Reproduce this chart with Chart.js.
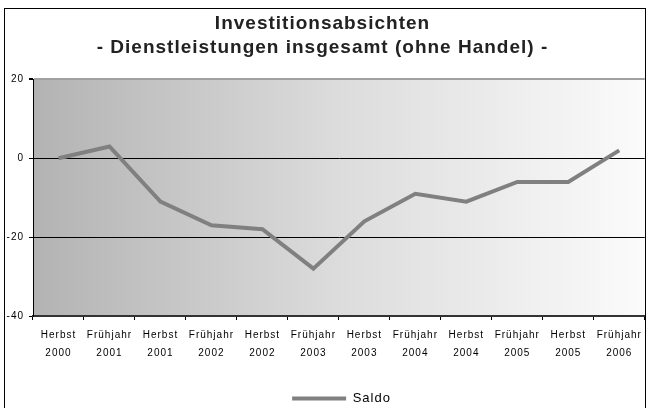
<!DOCTYPE html>
<html>
<head>
<meta charset="utf-8">
<script src="https://cdn.jsdelivr.net/npm/chart.js@4"></script>
<style>
  html, body { margin: 0; padding: 0; background: #fff; }
  #wrap { width: 648px; height: 408px; }
</style>
</head>
<body>
<div id="wrap"><canvas id="chart" width="648" height="408"></canvas></div>
<script>
// Daten
const seasons = ['Herbst', 'Frühjahr', 'Herbst', 'Frühjahr', 'Herbst', 'Frühjahr',
                 'Herbst', 'Frühjahr', 'Herbst', 'Frühjahr', 'Herbst', 'Frühjahr'];
const years = ['2000', '2001', '2001', '2002', '2002', '2003',
               '2003', '2004', '2004', '2005', '2005', '2006'];
const saldo = [0, 3, -11, -17, -18, -28, -16, -9, -11, -6, -6, 2];
const yTicks = [20, 0, -20, -40];

const labels = seasons.map((s, i) => [s, years[i]]);

// Rahmen, Verlauf im Diagrammbereich, gesperrte Schrift
const framePlugin = {
  id: 'frame',
  beforeLayout(chart) {
    chart.ctx.letterSpacing = '1px';
  },
  afterLayout(chart) {
    // Legende etwas nach rechts wie im Original
    chart.legend.left += 19;
    chart.legend.right += 19;
  },
  beforeDraw(chart) {
    const { ctx, chartArea: a } = chart;
    ctx.letterSpacing = '1px';
    ctx.save();
    ctx.fillStyle = '#fff';
    ctx.fillRect(0, 0, chart.width, chart.height);
    const g = ctx.createLinearGradient(a.left, 0, a.right, 0);
    g.addColorStop(0, '#b3b3b3');
    g.addColorStop(0.5, '#dcdcdc');
    g.addColorStop(1, '#fbfbfb');
    ctx.fillStyle = g;
    ctx.fillRect(a.left, a.top, a.right - a.left, a.bottom - a.top);
    ctx.restore();
  },
  afterDraw(chart) {
    const ctx = chart.ctx;
    ctx.save();
    ctx.strokeStyle = '#000';
    ctx.lineWidth = 1;
    ctx.strokeRect(4.5, 8.5, 641, 410);
    ctx.restore();
  }
};

new Chart(document.getElementById('chart'), {
  type: 'line',
  data: {
    labels: labels,
    datasets: [{
      label: 'Saldo',
      data: saldo,
      borderColor: '#808080',
      backgroundColor: '#808080',
      borderWidth: 4,
      pointRadius: 0,
      tension: 0
    }]
  },
  options: {
    responsive: false,
    animation: false,
    layout: { padding: { left: 0, right: 3, top: 8, bottom: -7 } },
    plugins: {
      title: {
        display: true,
        text: ['Investitionsabsichten', '- Dienstleistungen insgesamt (ohne Handel) -'],
        color: '#222',
        font: { family: 'Liberation Sans, Arial, sans-serif', size: 19, weight: 'bold', lineHeight: 1.3 },
        padding: { top: 3, bottom: 19 }
      },
      legend: {
        position: 'bottom',
        labels: {
          boxWidth: 54,
          boxHeight: 4,
          padding: 4,
          color: '#000',
          font: { family: 'Liberation Sans, Arial, sans-serif', size: 13 },
          generateLabels: (chart) => [{
            text: 'Saldo',
            fillStyle: '#808080',
            strokeStyle: '#808080',
            lineWidth: 0,
            datasetIndex: 0
          }]
        }
      },
      tooltip: { enabled: false }
    },
    scales: {
      x: {
        offset: true,
        afterFit: (s) => { s.height = 72; },
        grid: {
          offset: true,
          drawOnChartArea: false,
          tickLength: 4,
          tickColor: '#000'
        },
        border: { color: '#333', width: 2 },
        ticks: {
          maxRotation: 0,
          autoSkip: false,
          padding: 6,
          color: '#000',
          font: { family: 'Liberation Sans, Arial, sans-serif', size: 10, lineHeight: 1.8 }
        }
      },
      y: {
        min: -40,
        max: 20,
        afterBuildTicks: (s) => { s.ticks = yTicks.map(v => ({ value: v })); },
        afterFit: (s) => { s.width = 33; },
        grid: {
          color: (c) => c.tick && c.tick.value === 20 ? '#a0a0a0' : (c.tick && c.tick.value === -40 ? 'rgba(0,0,0,0)' : '#000'),
          lineWidth: (c) => c.tick && c.tick.value === 20 ? 2 : 1,
          tickLength: 4,
          tickColor: '#000'
        },
        border: { color: '#000', width: 1 },
        ticks: {
          padding: 5,
          color: '#000',
          font: { family: 'Liberation Sans, Arial, sans-serif', size: 10 }
        }
      }
    }
  },
  plugins: [framePlugin]
});
</script>
</body>
</html>
